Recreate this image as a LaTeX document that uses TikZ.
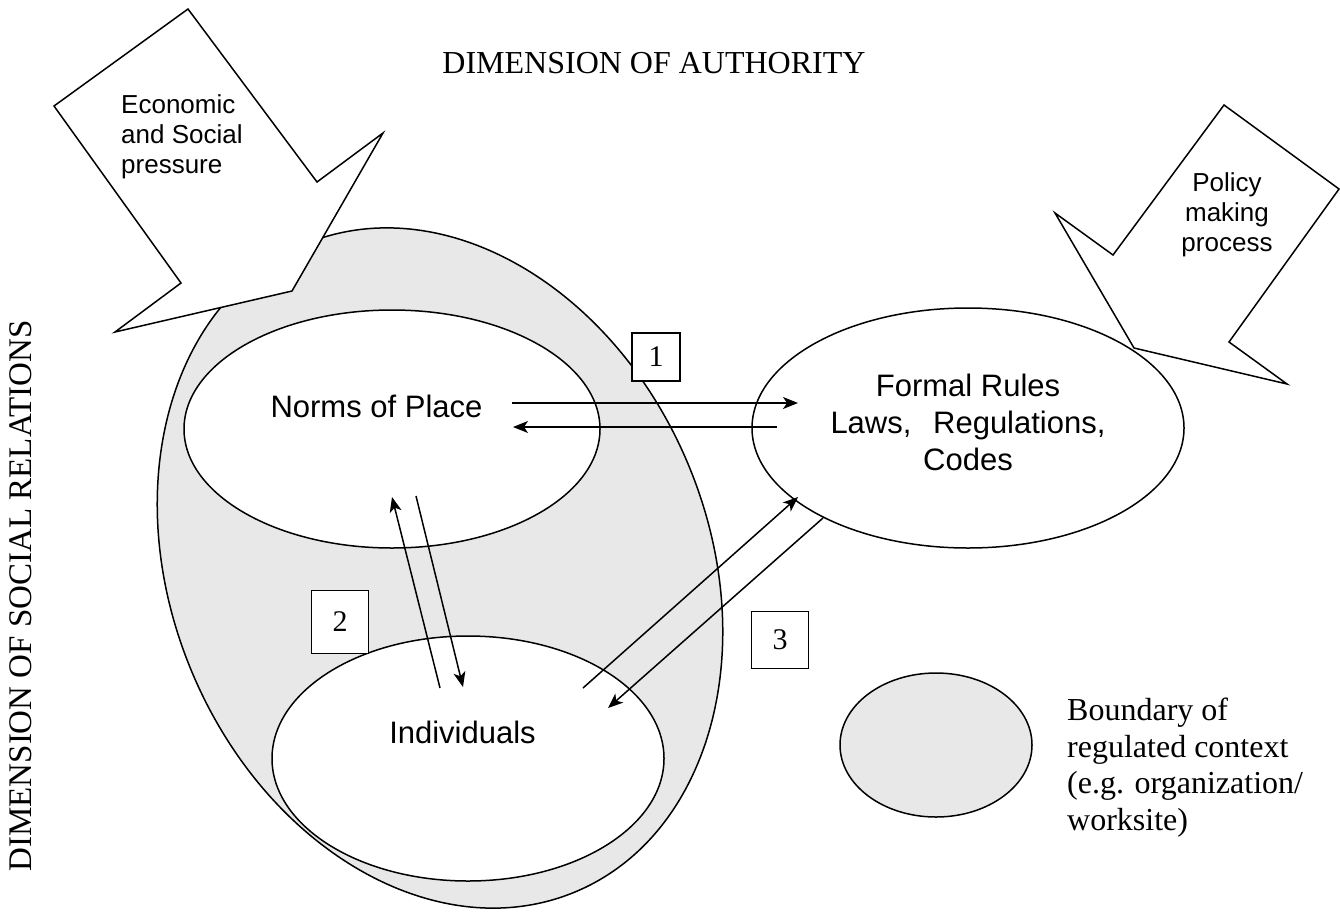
\documentclass[tikz,border=0pt]{standalone}
\usepackage{fontspec}
\setmainfont{Liberation Serif}
\newfontfamily\arialfont{Liberation Sans}
\usetikzlibrary{arrows.meta,shapes.geometric}
\definecolor{contextgray}{gray}{0.91}

\begin{document}
\begin{tikzpicture}
[x=1pt, y=-1pt,
boundary/.style={ellipse, draw, fill=contextgray, line width = 1.5pt, inner sep = 0pt},
sphere/.style={ellipse, draw, fill=white, line width = 1.5pt, inner sep = 0pt},
sphere text/.style={font=\arialfont\fontsize{31}{37}\selectfont, align=center, inner sep = 0pt},
pressure text/.style={font=\arialfont\fontsize{26}{30}\selectfont, inner sep = 0pt},
serif text/.style={font=\fontsize{32}{36.5}\selectfont, inner sep = 0pt},
number box/.style={draw, fill=white, line width = 1.5pt, font=\fontsize{30}{30}\selectfont, inner sep = 0pt},
flow/.style={-{Stealth[length=15pt, width=12pt, inset=4pt]}, line width = 1.5pt},
push/.style={draw, fill=white, line width = 1.5pt, line join = miter}]
\useasboundingbox (0,0) rectangle (1340,911);
\node[boundary, minimum width = 702pt, minimum height = 538pt, rotate = -67.3] (context) at (440,568) {};
\node[boundary, minimum width = 192pt, minimum height = 144pt] (legend) at (936,745) {};
\node[sphere, minimum width = 416pt, minimum height = 238pt] (norms) at (392,429) {};
\node[sphere, minimum width = 392pt, minimum height = 245pt] (individuals) at (468,758.5) {};
\node[sphere, minimum width = 432pt, minimum height = 240pt] (formal) at (968,428) {};
\draw[push] (188,9) -- (54,106) -- (181,283) -- (115,332) -- (292,291) -- (383,133) -- (317,182) -- cycle;
\draw[push] (1224,105) -- (1339,189) -- (1229,342) -- (1287,384) -- (1134,348) -- (1055,213) -- (1113,255) -- cycle;
\node[pressure text, align=left, anchor=north west] (economic) at (121,94) {Economic\\and Social\\pressure};
\node[pressure text, align=center, anchor=north] (policy) at (1227,172) {Policy\\making\\process};
\node[sphere text, anchor=base] (normslabel) at (376.5,417) {Norms of Place};
\node[sphere text, anchor=base] (individualslabel) at (462.5,743) {Individuals};
\node[sphere text] (formallabel) at (968,422) {Formal Rules\\Laws,\hspace{0.7em}Regulations,\\Codes};
\node[serif text, anchor=base] (authority) at (654,73) {DIMENSION OF AUTHORITY};
\node[serif text, font=\fontsize{33}{36}\selectfont, rotate=90] (social) at (21,596) {DIMENSION OF SOCIAL RELATIONS};
\node[serif text, align=left, anchor=north west] (legendtext) at (1067,698) {Boundary of\\regulated context\\(e.g. organization/\\worksite)};
\node[number box, minimum width = 48pt, minimum height = 48pt] (one) at (656,357) {1};
\node[number box, minimum width = 57pt, minimum height = 63pt] (two) at (340,622) {2};
\node[number box, minimum width = 57pt, minimum height = 57pt] (three) at (780,640) {3};
\coordinate (np-out) at (512,403);
\coordinate (fr-in) at (798,403);
\coordinate (fr-out) at (777,427);
\coordinate (np-in) at (513,427);
\coordinate (iv-up) at (440,688);
\coordinate (np-up) at (392,497);
\coordinate (np-down) at (416,496);
\coordinate (iv-down) at (463,687);
\coordinate (iv-out) at (583,688);
\coordinate (fr-up) at (798,497);
\coordinate (fr-down) at (823,518);
\coordinate (iv-in) at (608,708);
\draw[flow] (np-out) -- (fr-in);
\draw[flow] (fr-out) -- (np-in);
\draw[flow] (iv-up) -- (np-up);
\draw[flow] (np-down) -- (iv-down);
\draw[flow] (iv-out) -- (fr-up);
\draw[flow] (fr-down) -- (iv-in);
\end{tikzpicture}
\end{document}
